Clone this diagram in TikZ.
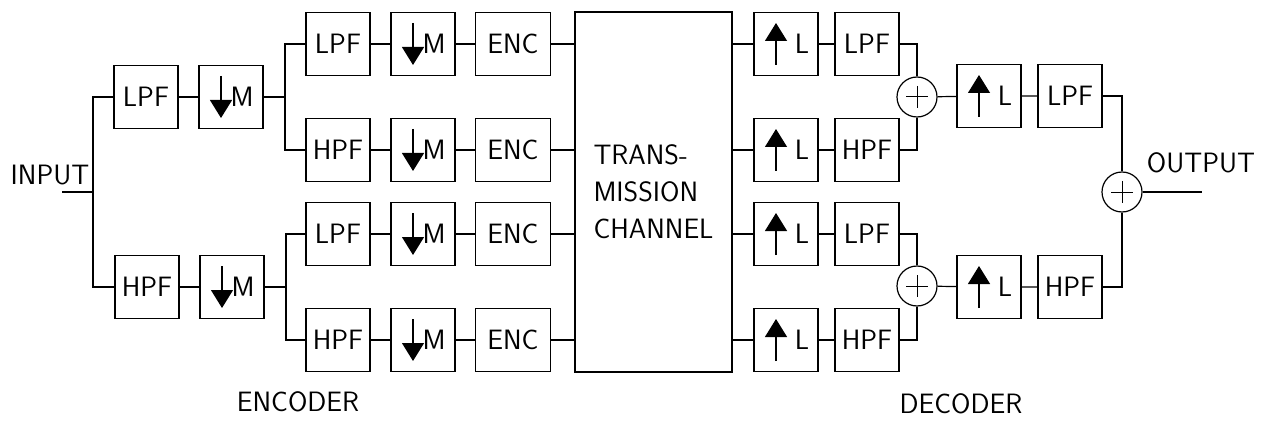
\documentclass[tikz,border=0pt]{standalone}
\usepackage{fontspec}
\usetikzlibrary{arrows.meta,positioning,calc}

\begin{document}
\begin{tikzpicture}[x=1pt,y=-1pt,line width=1.2pt,font=\sffamily\fontsize{28}{37}\selectfont,
 blk/.style={draw,minimum width=64pt,minimum height=63pt,inner sep=0pt},
 encbox/.style={blk,minimum width=75pt},
 dnbox/.style={blk,path picture={\draw[-{Triangle[length=18pt,width=22pt]}] ($(path picture bounding box.center)+(-10,-21)$) -- ++(0,42);}},
 upbox/.style={blk,path picture={\draw[-{Triangle[length=18pt,width=22pt]}] ($(path picture bounding box.center)+(-10,21)$) -- ++(0,-42);}},
 sum/.style={draw,circle,minimum size=40pt,inner sep=0pt,path picture={\draw[line width=1pt] ($(path picture bounding box.center)+(-11,0)$) -- ++(22,0) ($(path picture bounding box.center)+(0,-11)$) -- ++(0,22);}}]
\useasboundingbox (0,0) rectangle (1265,422);

% encoder, first split
\node (inlbl) at (50,175) {INPUT};
\coordinate (in) at (62,192);
\coordinate (jin) at (93,192);
\node[blk] (l1) at (146,97) {LPF};
\node[dnbox] (d1) at (231,97) {\hspace{22pt}M};
\node[blk] (h1) at (147,287) {HPF};
\node[dnbox] (d2) at (232,287) {\hspace{22pt}M};
\coordinate (j1) at (285,97);
\coordinate (j2) at (286,287);

\node[draw,minimum width=157pt,minimum height=360pt,align=left] (ch) at (653.5,192) {TRANS-\\MISSION\\CHANNEL};

% encoder, second split
\foreach \n/\y/\f in {1/44/LPF,2/150/HPF,3/234/LPF,4/340/HPF}{
  \node[blk] (f\n) at (338,\y) {\f};
  \node[dnbox] (m\n) at (423,\y) {\hspace{22pt}M};
  \node[encbox] (e\n) at (513,\y) {ENC};
  \draw (f\n) -- (m\n) -- (e\n) -- (e\n.east -| ch.west);
}

% decoder
\foreach \n/\y/\f in {1/44/LPF,2/150/HPF,3/234/LPF,4/340/HPF}{
  \node[upbox] (u\n) at (786,\y) {\hspace{32pt}L};
  \node[blk] (g\n) at (867,\y) {\f};
  \draw (u\n.west -| ch.east) -- (u\n) -- (g\n);
}
\node[sum] (s1) at (917,97) {};
\node[sum] (s2) at (917,286) {};
\node[upbox] (v1) at (989,96) {\hspace{32pt}L};
\node[blk] (k1) at (1070,96) {LPF};
\node[upbox] (v2) at (989,287) {\hspace{32pt}L};
\node[blk] (k2) at (1070,287) {HPF};
\node[sum] (so) at (1122,192) {};
\coordinate (out) at (1202,192);
\node (outlbl) at (1201,163) {OUTPUT};

\node (enclbl) at (298,402) {ENCODER};
\node (declbl) at (961,404) {DECODER};

% connectors
\draw (in) -- (jin);
\draw (l1.west) -| (jin) |- (h1.west);
\draw (l1) -- (d1) -- (j1);
\draw (h1) -- (d2) -- (j2);
\draw (f1.west) -| (j1) |- (f2.west);
\draw (f3.west) -| (j2) |- (f4.west);
\draw (g1.east) -| (s1.north);
\draw (g2.east) -| (s1.south);
\draw (g3.east) -| (s2.north);
\draw (g4.east) -| (s2.south);
\draw (s1) -- (v1) -- (k1);
\draw (s2) -- (v2) -- (k2);
\draw (k1.east) -| (so.north);
\draw (k2.east) -| (so.south);
\draw (so) -- (out);
\end{tikzpicture}
\end{document}
